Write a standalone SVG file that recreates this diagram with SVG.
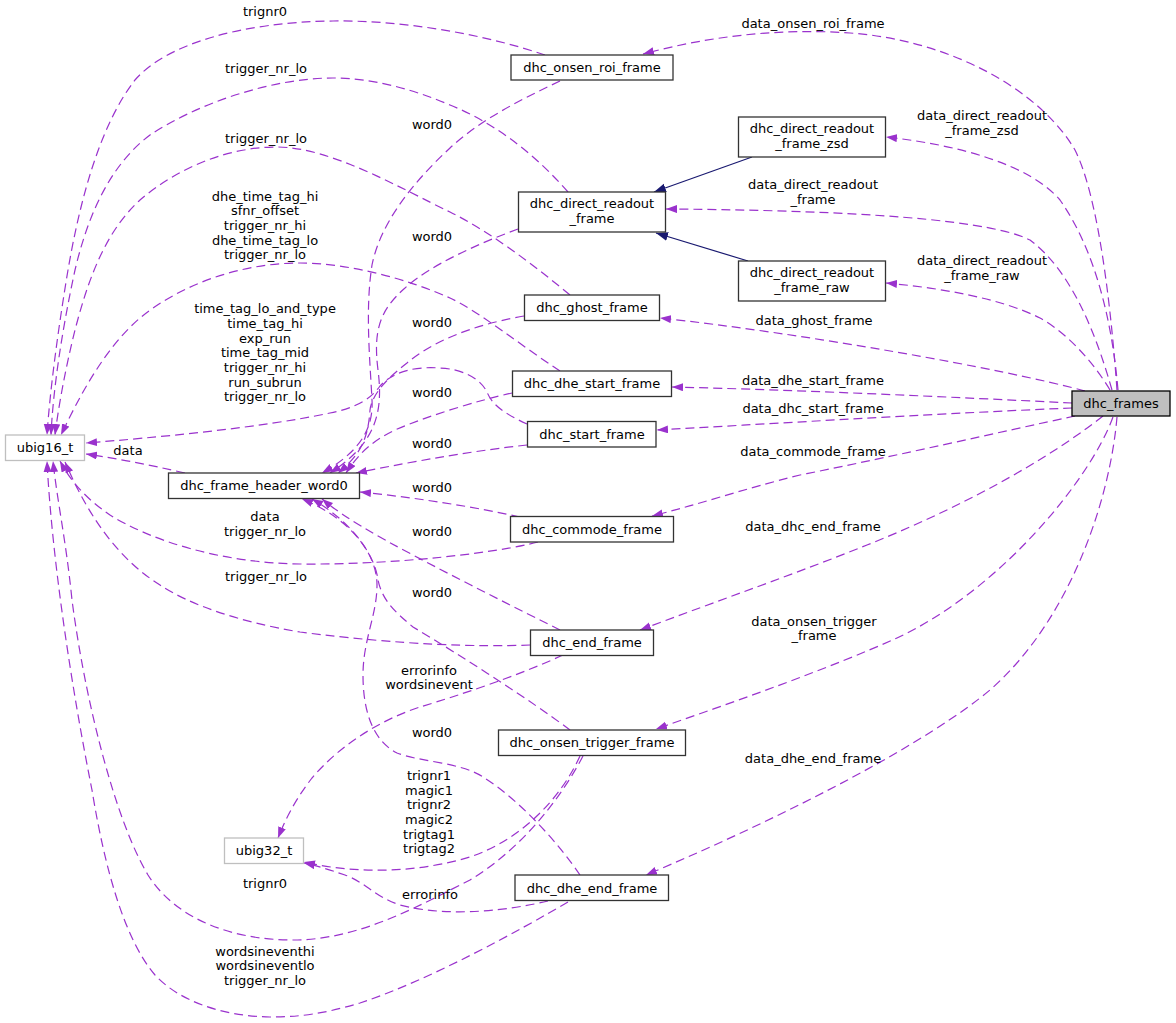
<svg xmlns="http://www.w3.org/2000/svg" width="1176" height="1023" viewBox="0 0 1176 1023">
<defs>
<style>
text{font-family:"DejaVu Sans","Liberation Sans",sans-serif;font-size:13px;fill:#000;text-anchor:middle}
.n rect{fill:#fff;stroke:#333;stroke-width:1.3}
.g rect{fill:#fff;stroke:#bfbfbf;stroke-width:1.3}
.e{fill:none;stroke:#9a32cd;stroke-width:1.2;stroke-dasharray:9,5;marker-end:url(#ap)}
.i{fill:none;stroke:#191970;stroke-width:1.2;marker-end:url(#an)}
</style>
<marker id="ap" markerUnits="userSpaceOnUse" markerWidth="12" markerHeight="9" refX="11" refY="4" orient="auto"><path d="M0,0 L11,4 L0,8 z" fill="#9a32cd"/></marker>
<marker id="an" markerUnits="userSpaceOnUse" markerWidth="13" markerHeight="10" refX="12" refY="4.5" orient="auto"><path d="M0,0 L12,4.5 L0,9 z" fill="#191970"/></marker>
</defs>
<rect width="1176" height="1023" fill="#fff"/>
<g id="connectors">
<path class="e" d="M1117,390 C1112,320 1100,200 1075,150 C1040,90 950,40 850,33 C780,28 710,36 643,54"/>
<path class="e" d="M1118,390 C1112,320 1095,250 1060,200 C1030,165 960,145 886,137"/>
<path class="e" d="M1112,390 C1095,330 1070,270 1030,240 C980,215 800,210 666,209"/>
<path class="e" d="M1110,390 C1095,365 1070,335 1040,318 C1000,298 940,288 886,283"/>
<path class="e" d="M1085,391 C1000,368 800,333 660,318"/>
<path class="e" d="M1072,403 C950,397 800,390 672,387"/>
<path class="e" d="M1072,408 C950,413 800,422 657,430"/>
<path class="e" d="M1075,416 C1000,432 900,455 800,475 C740,490 700,504 652,516"/>
<path class="e" d="M1103,416 C1060,450 980,500 867,545 C800,572 720,600 640,630"/>
<path class="e" d="M1113,417 C1090,480 1000,590 897,638 C830,668 740,700 656,729"/>
<path class="e" d="M1117,417 C1110,500 1070,620 990,690 C930,740 800,810 646,875"/>
<path class="i" d="M752,157 L654,192"/>
<path class="i" d="M748,261 L656,233"/>
<path class="e" d="M545,55 C480,33 400,20 333,21 C240,22 165,45 135,80 C100,125 80,200 68,270 C58,330 50,390 47,435"/>
<path class="e" d="M568,192 C540,160 500,125 450,105 C410,88 370,78 333,78 C270,78 195,105 150,135 C110,165 88,215 75,270 C62,330 53,390 51,435"/>
<path class="e" d="M570,295 C530,262 490,232 450,212 C400,188 330,147 277,147 C225,147 175,170 140,200 C105,232 88,280 75,330 C65,370 58,410 55,435"/>
<path class="e" d="M560,371 C520,345 480,312 450,298 C410,280 350,263 300,263 C240,263 180,285 140,318 C105,348 80,395 61,435"/>
<path class="e" d="M527,424 C505,414 492,405 487,392 C480,378 462,369 440,368 C412,366 392,373 380,386 C370,400 355,408 330,413 C260,428 150,438 86,443"/>
<path class="e" d="M185,473 C150,465 120,459 86,454"/>
<path class="e" d="M538,542 C500,552 400,565 300,564 C220,563 150,540 110,515 C85,498 70,480 60,461"/>
<path class="e" d="M530,645 C480,647 400,645 300,632 C240,622 190,605 160,585 C120,560 90,520 65,462"/>
<path class="e" d="M583,756 C560,800 520,850 470,880 C420,905 360,940 293,940 C230,940 175,918 148,875 C115,820 85,700 72,600 C66,540 57,500 53,461"/>
<path class="e" d="M568,902 C520,930 430,980 360,1003 C320,1015 295,1017 270,1017 C220,1016 178,1000 155,975 C125,940 105,870 92,790 C72,690 52,560 47,461"/>
<path class="e" d="M560,81 C520,100 480,120 450,148 C410,185 380,225 372,265 C365,310 370,360 372,400 C374,435 352,456 322,473"/>
<path class="e" d="M518,229 C480,243 430,265 405,288 C380,310 373,330 378,370 C383,410 378,442 330,473"/>
<path class="e" d="M524,316 C490,322 440,335 407,363 C385,380 372,395 370,410 C368,440 360,455 338,473"/>
<path class="e" d="M512,393 C480,400 430,415 395,430 C370,442 358,455 346,473"/>
<path class="e" d="M527,445 C480,450 420,460 356,473"/>
<path class="e" d="M520,517 C480,508 420,498 360,492"/>
<path class="e" d="M560,630 C520,610 460,580 413,555 C375,535 345,518 322,499"/>
<path class="e" d="M570,730 C530,700 460,655 413,627 C395,612 382,600 378,580 C375,555 352,522 312,499"/>
<path class="e" d="M580,875 C560,845 520,800 483,777 C460,762 420,762 397,753 C375,742 363,715 363,675 C363,640 377,615 377,585 C377,550 345,516 302,499"/>
<path class="e" d="M563,655 C520,675 460,695 420,707 C380,720 340,745 312,778 C298,796 287,815 278,838"/>
<path class="e" d="M580,756 C560,800 520,840 470,857 C420,872 360,875 304,862"/>
<path class="e" d="M548,901 C510,910 450,918 400,905 C375,897 365,882 345,875 C330,870 318,866 304,863"/>
</g>
<g id="edge-labels">
<text x="813" y="28">data_onsen_roi_frame</text>
<text x="982" y="120">data_direct_readout</text>
<text x="982" y="135">_frame_zsd</text>
<text x="813" y="189">data_direct_readout</text>
<text x="813" y="204">_frame</text>
<text x="982" y="265">data_direct_readout</text>
<text x="982" y="280">_frame_raw</text>
<text x="814" y="325">data_ghost_frame</text>
<text x="813" y="385">data_dhe_start_frame</text>
<text x="813" y="413">data_dhc_start_frame</text>
<text x="813" y="456">data_commode_frame</text>
<text x="813" y="531">data_dhc_end_frame</text>
<text x="814" y="626">data_onsen_trigger</text>
<text x="814" y="640">_frame</text>
<text x="813" y="763">data_dhe_end_frame</text>
<text x="265" y="16">trignr0</text>
<text x="266" y="73">trigger_nr_lo</text>
<text x="266" y="143">trigger_nr_lo</text>
<text x="265" y="201">dhe_time_tag_hi</text>
<text x="265" y="215">sfnr_offset</text>
<text x="265" y="230">trigger_nr_hi</text>
<text x="265" y="245">dhe_time_tag_lo</text>
<text x="265" y="259">trigger_nr_lo</text>
<text x="265" y="313">time_tag_lo_and_type</text>
<text x="265" y="328">time_tag_hi</text>
<text x="265" y="343">exp_run</text>
<text x="265" y="357">time_tag_mid</text>
<text x="265" y="372">trigger_nr_hi</text>
<text x="265" y="387">run_subrun</text>
<text x="265" y="401">trigger_nr_lo</text>
<text x="128" y="455">data</text>
<text x="265" y="521">data</text>
<text x="265" y="536">trigger_nr_lo</text>
<text x="266" y="581">trigger_nr_lo</text>
<text x="432" y="129">word0</text>
<text x="432" y="241">word0</text>
<text x="432" y="327">word0</text>
<text x="432" y="397">word0</text>
<text x="432" y="448">word0</text>
<text x="432" y="492">word0</text>
<text x="432" y="536">word0</text>
<text x="432" y="597">word0</text>
<text x="432" y="737">word0</text>
<text x="429" y="675">errorinfo</text>
<text x="429" y="689">wordsinevent</text>
<text x="429" y="780">trignr1</text>
<text x="429" y="795">magic1</text>
<text x="429" y="809">trignr2</text>
<text x="429" y="824">magic2</text>
<text x="429" y="839">trigtag1</text>
<text x="429" y="853">trigtag2</text>
<text x="265" y="888">trignr0</text>
<text x="430" y="899">errorinfo</text>
<text x="265" y="956">wordsineventhi</text>
<text x="265" y="970">wordsineventlo</text>
<text x="265" y="985">trigger_nr_lo</text>
</g>
<g id="dhc_frames"><rect x="1072" y="391" width="98" height="25" fill="#bfbfbf" stroke="#000" stroke-width="1.3"/><text x="1121" y="408">dhc_frames</text></g>
<g id="dhc_onsen_roi_frame" class="n"><rect x="511" y="55" width="162" height="25"/><text x="592" y="72">dhc_onsen_roi_frame</text></g>
<g id="dhc_direct_readout_frame_zsd" class="n"><rect x="738.5" y="117" width="147" height="40"/><text x="812" y="133">dhc_direct_readout</text><text x="812" y="148">_frame_zsd</text></g>
<g id="dhc_direct_readout_frame" class="n"><rect x="518.5" y="192" width="147" height="40"/><text x="592" y="208">dhc_direct_readout</text><text x="592" y="223">_frame</text></g>
<g id="dhc_direct_readout_frame_raw" class="n"><rect x="738.5" y="261" width="147" height="40"/><text x="812" y="277">dhc_direct_readout</text><text x="812" y="292">_frame_raw</text></g>
<g id="dhc_ghost_frame" class="n"><rect x="524.5" y="295" width="135" height="25.5"/><text x="592" y="312">dhc_ghost_frame</text></g>
<g id="dhc_dhe_start_frame" class="n"><rect x="512.5" y="371" width="159" height="25.5"/><text x="592" y="388">dhc_dhe_start_frame</text></g>
<g id="dhc_start_frame" class="n"><rect x="527.5" y="421.5" width="128.5" height="25.5"/><text x="592" y="439">dhc_start_frame</text></g>
<g id="dhc_commode_frame" class="n"><rect x="510.5" y="516.5" width="163" height="25.5"/><text x="592" y="534">dhc_commode_frame</text></g>
<g id="ubig16_t" class="g"><rect x="5.5" y="435" width="79" height="25.5"/><text x="45" y="452">ubig16_t</text></g>
<g id="dhc_frame_header_word0" class="n"><rect x="168.5" y="473" width="191" height="25.5"/><text x="264" y="490">dhc_frame_header_word0</text></g>
<g id="dhc_end_frame" class="n"><rect x="530.5" y="630" width="123" height="25.5"/><text x="592" y="647">dhc_end_frame</text></g>
<g id="dhc_onsen_trigger_frame" class="n"><rect x="498.5" y="730" width="187" height="25.5"/><text x="592" y="747">dhc_onsen_trigger_frame</text></g>
<g id="dhc_dhe_end_frame" class="n"><rect x="515" y="875" width="153.5" height="25.5"/><text x="592" y="893">dhc_dhe_end_frame</text></g>
<g id="ubig32_t" class="g"><rect x="224.5" y="838" width="79" height="25.5"/><text x="264" y="855">ubig32_t</text></g>
</svg>
